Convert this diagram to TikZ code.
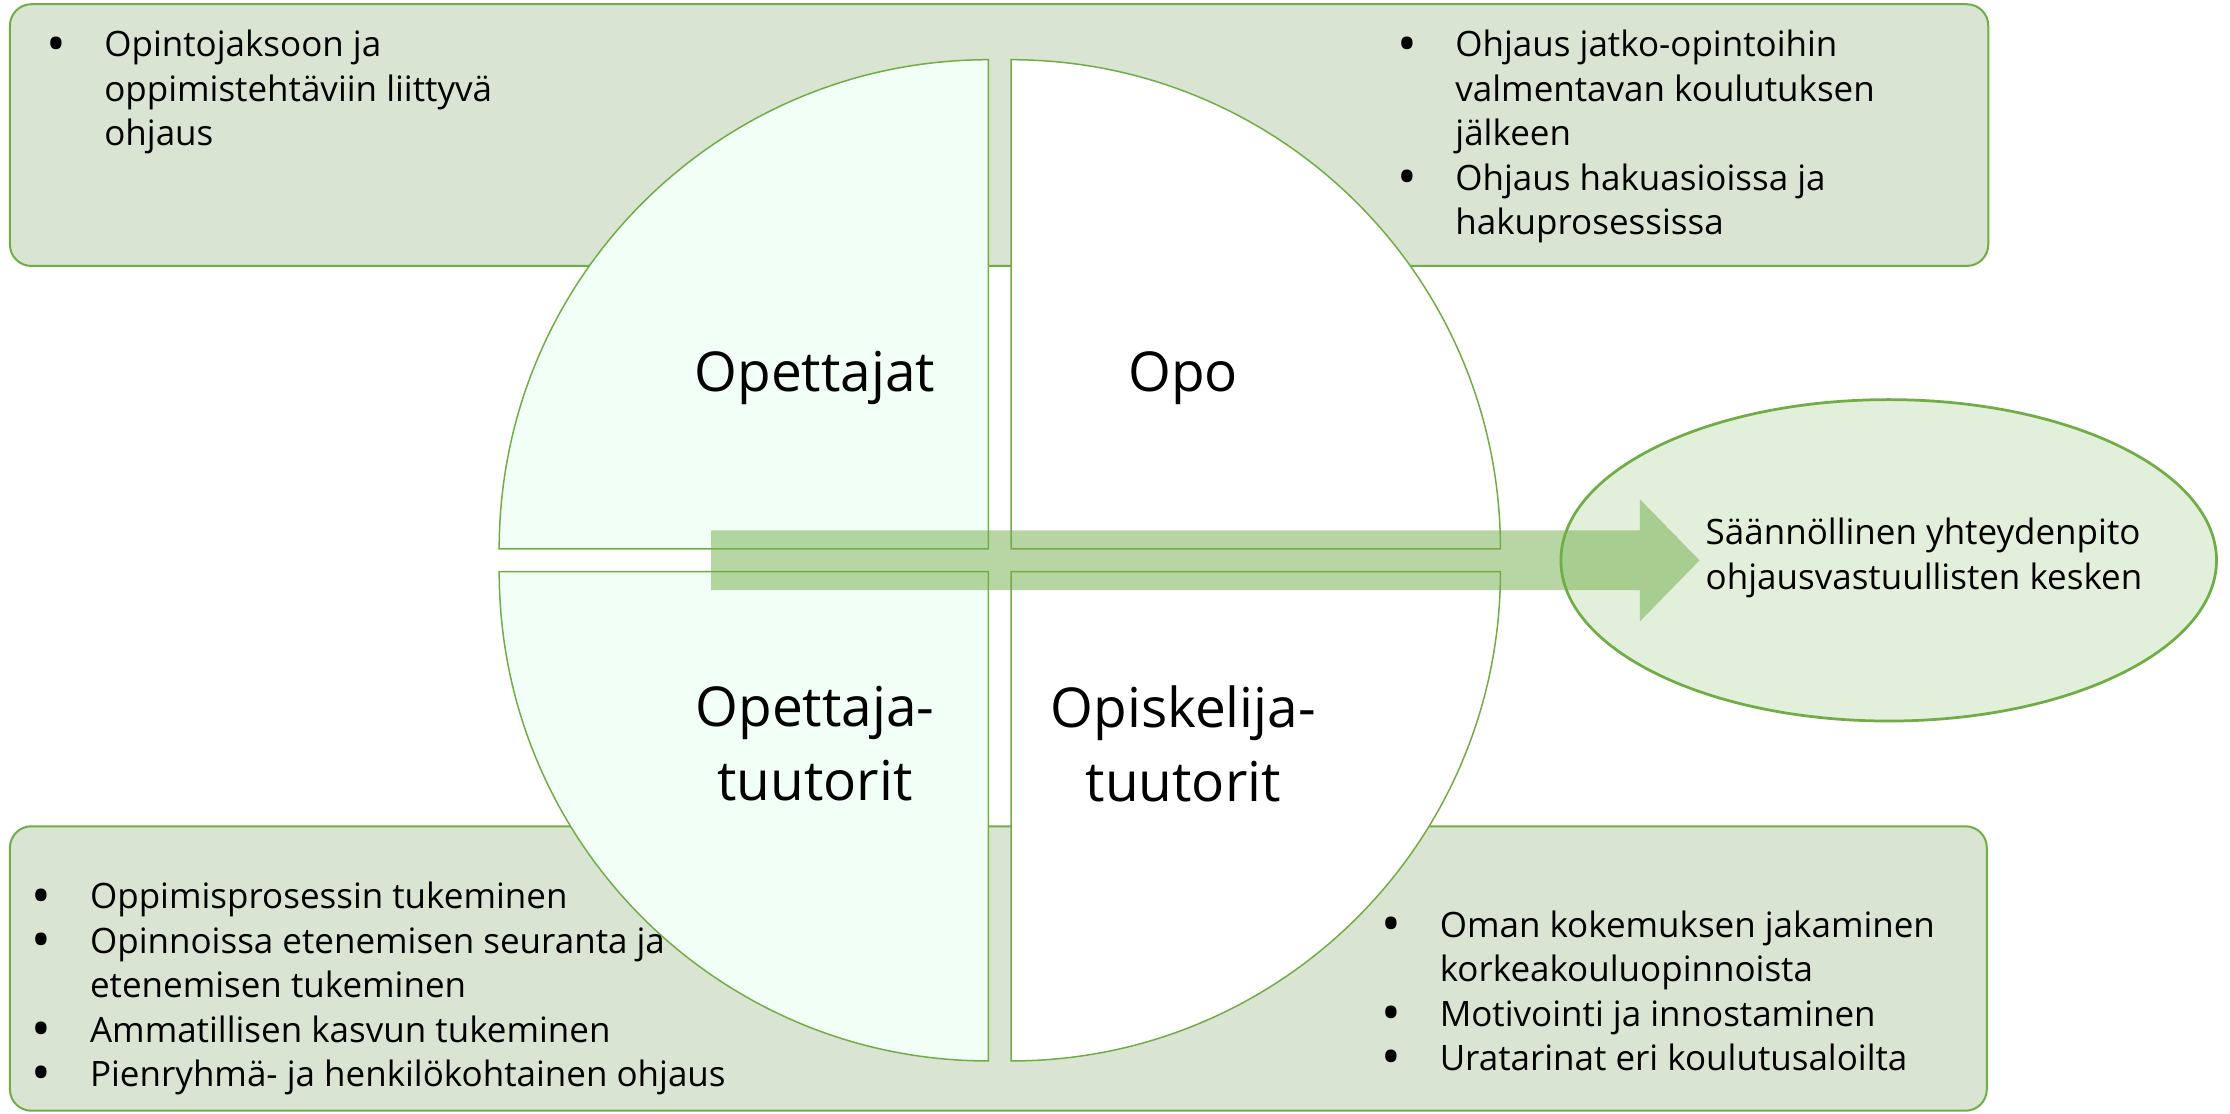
\documentclass[tikz,border=0pt]{standalone}
\usepackage{fontspec}
\setmainfont{Open Sans}
\usepackage{array}
\usepackage{graphicx}
\definecolor{rimgreen}{RGB}{112,173,71}
\definecolor{boxfill}{RGB}{217,228,210}
\definecolor{mintfill}{RGB}{241,255,247}
\definecolor{ovalfill}{RGB}{226,239,218}
\newcommand{\listdot}{\raisebox{-0.15em}{\scalebox{1.5}{•}}}
\begin{document}
\begin{tikzpicture}[x=0.02cm,y=0.02cm,
	infobox/.style={draw=rimgreen, fill=boxfill, line width=0.8pt, rounded corners=0.3cm},
	quarter/.style={draw=rimgreen, line width=0.6pt},
	biglabel/.style={font=\fontsize{22}{29.5}\selectfont, align=center},
	listtext/.style={anchor=base west, inner sep=0pt, font=\fontsize{14}{17.8}\selectfont}]
	\useasboundingbox (0,0) rectangle (1568,783);
	% boxes behind the circle
	\draw [infobox] (7,596) rectangle (1398,780);
	\draw [infobox] (7,2) rectangle (1397,202);
	% four quarters
	\draw [quarter, fill=mintfill] (695,397) -- (351,397) arc (180:90:344) -- cycle;
	\draw [quarter, fill=white] (711,397) -- (711,741) arc (90:0:344) -- cycle;
	\draw [quarter, fill=mintfill] (695,381) -- (695,37) arc (270:180:344) -- cycle;
	\draw [quarter, fill=white] (711,381) -- (1055,381) arc (0:-90:344) -- cycle;
	\draw [draw=rimgreen, fill=ovalfill, line width=1.1pt] (1328,389) ellipse [x radius=230.5, y radius=113];
	\fill [rimgreen, fill opacity=0.5] (500,368) -- (1153,368) -- (1153,346) -- (1195,389) -- (1153,432) -- (1153,410) -- (500,410) -- cycle;
	\node [biglabel] (opettajat) at (573,517) {Opettajat};
	\node [biglabel] (opo) at (832,517) {Opo};
	\node [biglabel] (opettajatuutorit) at (573,260) {Opettaja-\\tuutorit};
	\node [biglabel] (opiskelijatuutorit) at (832,260) {Opiskelija-\\tuutorit};
	\node [listtext] (opettajalista) at (32,743) {\begin{tabular}[t]{@{}p{0.82cm}@{}l@{}}
		\listdot & Opintojaksoon ja\\
		& oppimistehtäviin liittyvä\\
		& ohjaus
	\end{tabular}};
	\node [listtext] (opolista) at (982,743) {\begin{tabular}[t]{@{}p{0.82cm}@{}l@{}}
		\listdot & Ohjaus jatko-opintoihin\\
		& valmentavan koulutuksen\\
		& jälkeen\\
		\listdot & Ohjaus hakuasioissa ja\\
		& hakuprosessissa
	\end{tabular}};
	\node [listtext] (tuutorilista) at (22,144) {\begin{tabular}[t]{@{}p{0.82cm}@{}l@{}}
		\listdot & Oppimisprosessin tukeminen\\
		\listdot & Opinnoissa etenemisen seuranta ja\\
		& etenemisen tukeminen\\
		\listdot & Ammatillisen kasvun tukeminen\\
		\listdot & Pienryhmä- ja henkilökohtainen ohjaus
	\end{tabular}};
	\node [listtext] (opiskelijalista) at (971,124) {\begin{tabular}[t]{@{}p{0.82cm}@{}l@{}}
		\listdot & Oman kokemuksen jakaminen\\
		& korkeakouluopinnoista\\
		\listdot & Motivointi ja innostaminen\\
		\listdot & Uratarinat eri koulutusaloilta
	\end{tabular}};
	\node [listtext] (yhteydenpito) at (1199,400) {\begin{tabular}[t]{@{}l@{}}
		Säännöllinen yhteydenpito\\
		ohjausvastuullisten kesken
	\end{tabular}};
\end{tikzpicture}
\end{document}
